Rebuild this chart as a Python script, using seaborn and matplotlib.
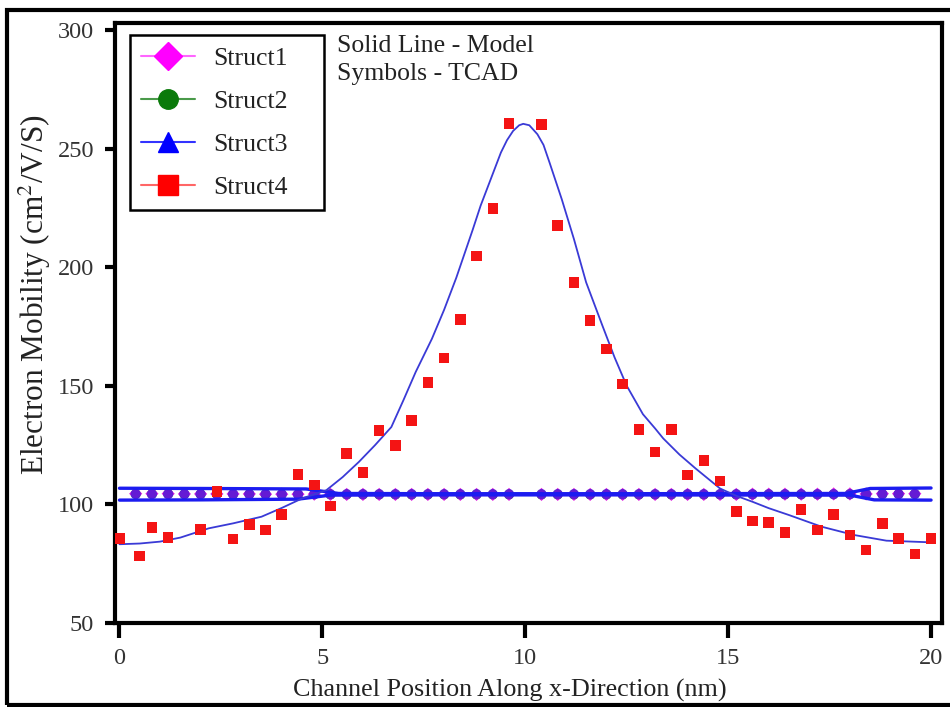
import matplotlib
matplotlib.use("Agg")
import matplotlib.pyplot as plt
import seaborn as sns
import pandas as pd
from matplotlib.lines import Line2D
from matplotlib.patches import Rectangle

# ---------------- data ----------------
# Struct4 TCAD symbols (red squares)
tcad_x = [0.0, 0.5, 0.8, 1.2, 2.0, 2.4, 2.8, 3.2, 3.6, 4.0, 4.4, 4.8, 5.2, 5.6,
          6.0, 6.4, 6.8, 7.2, 7.6, 8.0, 8.4, 8.8, 9.2, 9.6, 10.4, 10.8, 11.2,
          11.6, 12.0, 12.4, 12.8, 13.2, 13.6, 14.0, 14.4, 14.8, 15.2, 15.6,
          16.0, 16.4, 16.8, 17.2, 17.6, 18.0, 18.4, 18.8, 19.2, 19.6, 20.0]
tcad_y = [85.7, 78.3, 90.2, 86.1, 89.5, 105.5, 85.4, 91.6, 89.2, 95.8, 112.6,
          108.1, 99.4, 121.4, 113.4, 131.2, 124.9, 135.4, 151.3, 161.7, 177.9,
          204.7, 224.6, 260.5, 260.0, 217.6, 193.6, 177.4, 165.5, 150.8, 131.5,
          122.1, 131.6, 112.3, 118.6, 109.8, 96.9, 93.0, 92.4, 88.2, 97.9, 89.2,
          95.8, 87.1, 80.8, 92.0, 85.7, 79.0, 85.7]

# Struct4 model (solid line)
model_x = [0.0, 0.5, 1.0, 1.5, 2.2, 2.8, 3.5, 4.0, 4.5, 5.1, 5.5, 5.9, 6.3, 6.7,
           7.0, 7.3, 7.7, 8.0, 8.3, 8.5, 8.7, 8.9, 9.15, 9.4, 9.55, 9.7, 9.85,
           9.95, 10.1, 10.3, 10.45, 10.6, 10.9, 11.2, 11.5, 11.9, 12.2, 12.5,
           12.9, 13.2, 13.4, 13.8, 14.2, 14.8, 15.2, 15.6, 16.0, 16.5, 17.3,
           18.1, 18.9, 20.0]
model_y = [83.2, 83.5, 84.3, 86.0, 89.9, 92.0, 94.8, 98.5, 102.5, 106.0, 111.5,
           117.9, 125.0, 132.6, 144.0, 155.8, 169.8, 182.0, 195.5, 205.5, 215.5,
           225.9, 237.1, 248.3, 253.5, 257.4, 259.8, 260.4, 259.8, 256.0, 251.5,
           244.0, 228.6, 211.8, 193.6, 175.4, 162.0, 150.0, 138.0, 132.0, 127.8,
           121.0, 115.1, 106.7, 103.6, 101.1, 98.4, 95.5, 90.6, 87.1, 84.7, 84.0]

# Struct1-3 model lines (nearly flat band)
upper_x = [0.0, 2.0, 4.6, 5.4, 8.0, 12.0, 17.9, 18.5, 20.0]
upper_y = [106.8, 106.7, 106.5, 104.6, 104.5, 104.5, 104.6, 106.7, 106.9]
lower_x = [0.0, 2.0, 4.4, 5.2, 8.0, 12.0, 18.0, 18.6, 20.0]
lower_y = [101.8, 101.9, 102.2, 103.9, 104.0, 104.0, 103.9, 101.9, 101.8]

# Struct1-3 TCAD symbols
band_x = [0.4, 0.8, 1.2, 1.6, 2.0, 2.4, 2.8, 3.2, 3.6, 4.0, 4.4, 4.8, 5.2, 5.6,
          6.0, 6.4, 6.8, 7.2, 7.6, 8.0, 8.4, 8.8, 9.2, 9.6, 10.4, 10.8, 11.2,
          11.6, 12.0, 12.4, 12.8, 13.2, 13.6, 14.0, 14.4, 14.8, 15.2, 15.6,
          16.0, 16.4, 16.8, 17.2, 17.6, 18.0, 18.4, 18.8, 19.2, 19.6]
struct1_y = [104.5, 104.5, 104.5, 104.4, 104.4, 104.4, 104.4, 104.4, 104.3,
             104.3, 104.3, 104.3, 104.2, 104.2, 104.2, 104.2, 104.2, 104.2,
             104.2, 104.2, 104.2, 104.2, 104.2, 104.2, 104.2, 104.2, 104.2,
             104.2, 104.2, 104.2, 104.2, 104.2, 104.2, 104.2, 104.2, 104.2,
             104.2, 104.3, 104.3, 104.3, 104.3, 104.3, 104.4, 104.4, 104.4,
             104.5, 104.5, 104.5]
struct2_y = [104.4, 104.4, 104.4, 104.3, 104.3, 104.3, 104.3, 104.3, 104.2,
             104.2, 104.2, 104.2, 104.1, 104.1, 104.1, 104.1, 104.1, 104.1,
             104.1, 104.1, 104.1, 104.1, 104.1, 104.1, 104.1, 104.1, 104.1,
             104.1, 104.1, 104.1, 104.1, 104.1, 104.1, 104.1, 104.1, 104.1,
             104.1, 104.2, 104.2, 104.2, 104.2, 104.2, 104.3, 104.3, 104.3,
             104.4, 104.4, 104.4]
struct3_y = [104.3, 104.3, 104.3, 104.3, 104.3, 104.3, 104.3, 104.3, 104.3,
             104.3, 104.3, 104.3, 104.3, 104.3, 104.3, 104.3, 104.3, 104.3,
             104.3, 104.3, 104.3, 104.3, 104.3, 104.3, 104.3, 104.3, 104.3,
             104.3, 104.3, 104.3, 104.3, 104.3, 104.3, 104.3, 104.3, 104.3,
             104.3, 104.3, 104.3, 104.3, 104.3, 104.3, 104.3, 104.3, 104.3,
             104.3, 104.3, 104.3]

series_names = ["Struct1", "Struct2", "Struct3", "Struct4"]
x_ticks = [0, 5, 10, 15, 20]
y_ticks = [50, 100, 150, 200, 250, 300]

# ---------------- styling ----------------
sns.set_style("ticks")
plt.rcParams["font.family"] = ["Liberation Serif", "DejaVu Serif"]
plt.rcParams["mathtext.fontset"] = "stix"

W, H, DPI = 950, 707, 100
fig = plt.figure(figsize=(W / DPI, H / DPI), dpi=DPI)
ax = fig.add_axes([115 / W, 1 - 623 / H, (942 - 115) / W, (623 - 23) / H])

BLUE_BAND = "#1c1cf0"
MODEL_BLUE = "#3a3ad6"

df_t = pd.DataFrame({"x": tcad_x, "y": tcad_y})
df_m = pd.DataFrame({"x": model_x, "y": model_y})
df_u = pd.DataFrame({"x": upper_x, "y": upper_y})
df_l = pd.DataFrame({"x": lower_x, "y": lower_y})
df_b = pd.DataFrame({"x": band_x, "s1": struct1_y, "s2": struct2_y, "s3": struct3_y})

# Struct1-3 symbols
sns.scatterplot(data=df_b, x="x", y="s2", marker="o", s=50, color="#1a8a1a",
                edgecolor="none", ax=ax, zorder=2, legend=False)
sns.scatterplot(data=df_b, x="x", y="s1", marker="D", s=45, color="#e020e0",
                edgecolor="none", ax=ax, zorder=3, legend=False)
sns.scatterplot(data=df_b, x="x", y="s3", marker="o", s=55, color="#3a1ad0",
                edgecolor="none", alpha=0.75, ax=ax, zorder=4, legend=False)

# Struct1-3 model lines
sns.lineplot(data=df_u, x="x", y="y", color=BLUE_BAND, lw=2.4, ax=ax,
             estimator=None, sort=False, zorder=5, solid_capstyle="round")
sns.lineplot(data=df_l, x="x", y="y", color=BLUE_BAND, lw=2.4, ax=ax,
             estimator=None, sort=False, zorder=5, solid_capstyle="round")

# Struct4 model + TCAD
sns.lineplot(data=df_m, x="x", y="y", color=MODEL_BLUE, lw=1.3, ax=ax,
             estimator=None, sort=False, zorder=6)
sns.scatterplot(data=df_t, x="x", y="y", marker="s", s=58, color="#f41414",
                edgecolor="none", ax=ax, zorder=7, legend=False)

# ---------------- axes ----------------
ax.set_xlim(-0.11, 20.27)
ax.set_ylim(50, 302.9)
ax.set_xticks(x_ticks)
ax.set_yticks(y_ticks)
ax.set_xticklabels([str(v) for v in x_ticks])
ax.set_yticklabels([str(v) for v in y_ticks])
for sp in ax.spines.values():
    sp.set_visible(True)
    sp.set_linewidth(3.0)
    sp.set_color("black")
ax.tick_params(axis="x", direction="out", length=11, width=3, pad=7,
               labelsize=17.5, colors="black")
ax.tick_params(axis="y", direction="out", length=7, width=3, pad=8,
               labelsize=17.5, colors="black")
for lab in ax.get_xticklabels() + ax.get_yticklabels():
    lab.set_color("#333333")

ax.set_xlabel("Channel Position Along x-Direction (nm)", fontsize=18.8,
              color="#222222", va="center", ha="center")
ax.xaxis.set_label_coords(0.477, -0.112)
ax.set_ylabel("Electron Mobility (cm$^2$/V/S)", fontsize=22.5,
              color="#222222", va="center", ha="center")
ax.yaxis.set_label_coords(-0.097, 0.547)

# annotation texts
ax.text(0.268, 0.962, "Solid Line - Model", transform=ax.transAxes,
        fontsize=18.5, va="center", ha="left", color="#222222")
ax.text(0.268, 0.915, "Symbols - TCAD", transform=ax.transAxes,
        fontsize=18.5, va="center", ha="left", color="#222222")

# legend
styles = [("#ff00ff", "D", "#ff66ff"), ("#0a7a0a", "o", "#4a9a4a"),
          ("#0000ff", "^", "#3333ff"), ("#ff0000", "s", "#ff6666")]
handles = [Line2D([0], [0], color=lc, lw=1.5, marker=m, markersize=14,
                  markerfacecolor=c, markeredgecolor=c)
           for (c, m, lc) in styles]
leg_w = (324 - 130) / 827
leg = ax.legend(handles, series_names, loc="upper left",
                bbox_to_anchor=(0.018, 0.0, leg_w, 0.98), mode="expand",
                borderaxespad=0, fontsize=18.5,
                frameon=True, fancybox=False, handlelength=2.1,
                handletextpad=0.7, labelspacing=0.78, borderpad=0.45)
leg.get_frame().set_edgecolor("black")
leg.get_frame().set_linewidth(1.8)
leg.get_frame().set_alpha(1)
for t in leg.get_texts():
    t.set_color("#222222")

# outer figure frame (right side runs off the image)
fig.add_artist(Rectangle((7 / W, 2 / H), 1.2, (705 - 10) / H,
                         transform=fig.transFigure, fill=False,
                         edgecolor="black", lw=3.0, clip_on=False))

fig.savefig("out.png", dpi=DPI)
